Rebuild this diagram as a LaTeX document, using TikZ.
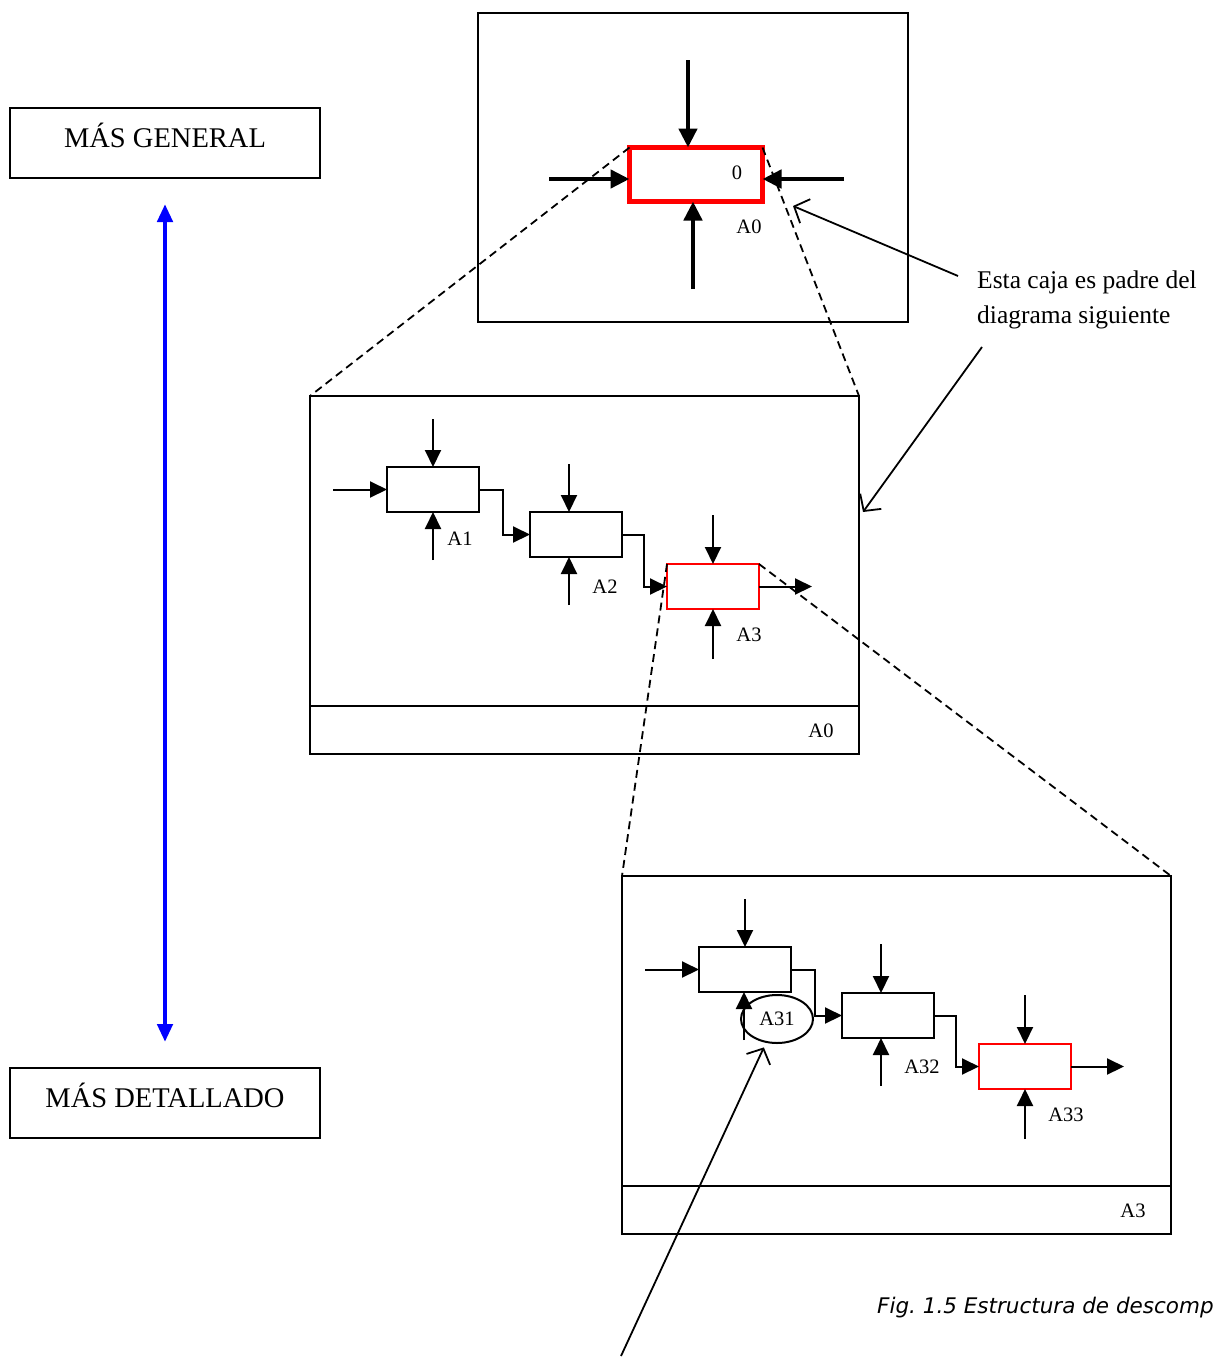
\documentclass[tikz,border=0pt]{standalone}
\usepackage{fontspec}
\setmainfont{Liberation Serif}
\newfontfamily\capfont{DejaVu Sans}
\usetikzlibrary{arrows.meta,shapes.geometric,calc}
\begin{document}
\begin{tikzpicture}[x=1pt,y=-1pt,
  frame/.style={draw, line width=2.4pt, inner sep=0pt, outer sep=0pt},
  proc/.style={draw, line width=2.4pt, minimum width=92pt, minimum height=45pt, inner sep=0pt, outer sep=0pt},
  redproc/.style={proc, draw=red, line width=2pt},
  arr/.style={line width=2pt, -{Triangle[length=17pt,width=16pt]}},
  bigarr/.style={line width=4.5pt, -{Triangle[length=19pt,width=18pt]}},
  lbl/.style={font=\fontsize{20.5}{24}\selectfont, inner sep=0pt},
  bigtext/.style={font=\fontsize{28.5}{32}\selectfont, inner sep=0pt},
  notetext/.style={font=\fontsize{25.5}{30}\selectfont, inner sep=0pt, anchor=base west},
  dashline/.style={line width=1.8pt, dash pattern=on 8pt off 5pt},
  notearr/.style={line width=1.8pt, -{Straight Barb[length=12pt,width=26pt]}},
  bluearr/.style={line width=4.5pt, draw=blue, {Triangle[length=18pt,width=15pt]}-{Triangle[length=18pt,width=15pt]}}
]
\useasboundingbox[fill=white] (0,0) rectangle (1215,1357);

% ---------- left side ----------
\node[frame, minimum width=310pt, minimum height=70pt] (gen) at (165,143) {};
\node[bigtext, anchor=base] (gent) at (165,147) {MÁS GENERAL};
\node[frame, minimum width=310pt, minimum height=70pt] (det) at (165,1103) {};
\node[bigtext, anchor=base] (dett) at (165,1107) {MÁS DETALLADO};
\draw[bluearr, shorten <=26pt, shorten >=26pt] (gen) -- (det);

% ---------- frames ----------
\node[frame, minimum width=430pt, minimum height=309pt] (top) at (693,167.5) {};
\node[frame, minimum width=549pt, minimum height=358pt] (mid) at (584.5,575) {};
\draw[line width=2.4pt] ($(mid.south west)+(0,-48)$) coordinate (mdl) -- (mdl -| mid.east);
\node[frame, minimum width=549pt, minimum height=358pt] (bot) at (896.5,1055) {};
\draw[line width=2.4pt] ($(bot.south west)+(0,-48)$) coordinate (bdl) -- (bdl -| bot.east);

% ---------- top diagram ----------
\node[draw=red, line width=5.5pt, minimum width=133pt, minimum height=54pt, inner sep=0pt, outer sep=0pt] (red) at (696,174.5) {};
\draw[dashline] (red.north west) -- (mid.north west);
\draw[dashline] (red.north east) -- (mid.north east);
\node[lbl] (zero) at (737,173) {0};
\node[lbl] (a0top) at (749,227) {A0};
\coordinate (tt) at (688,60);
\draw[bigarr] (tt) -- (tt |- red.north);
\coordinate (tl) at (549,179);
\draw[bigarr] (tl) -- (tl -| red.west);
\coordinate (tr) at (844,179);
\draw[bigarr] (tr) -- (tr -| red.east);
\coordinate (tb) at (693,289);
\draw[bigarr] (tb) -- (tb |- red.south);

% ---------- note ----------
\node[notetext] (note1) at (977,288) {Esta caja es padre del};
\node[notetext] (note2) at (977,323) {diagrama siguiente};
\coordinate (n1s) at (958,276);
\coordinate (n1e) at (793,206);
\draw[notearr] (n1s) -- (n1e);
\coordinate (n2s) at (982,347);
\coordinate (n2e) at (863,512);
\draw[notearr] (n2s) -- (n2e);

% ---------- middle diagram ----------
\node[proc] (a1) at (433,489.5) {};
\node[proc] (a2) at (576,534.5) {};
\node[redproc] (a3) at (713,586.5) {};
\draw[dashline] (a3.north west) -- (bot.north west);
\draw[dashline] (a3.north east) -- (bot.north east);
\draw[arr] (a1.north) ++(0,-48) -- (a1.north);
\draw[arr] (a1.south) ++(0,48) -- (a1.south);
\draw[arr] (a1.west) ++(-54,0) -- (a1.west);
\draw[arr] (a1.east) -- ++(24,0) |- (a2.west);
\draw[arr] ([xshift=-7pt]a2.north) ++(0,-48) -- ([xshift=-7pt]a2.north);
\draw[arr] ([xshift=-7pt]a2.south) ++(0,48) -- ([xshift=-7pt]a2.south);
\draw[arr] (a2.east) -- ++(22,0) |- (a3.west);
\draw[arr] (a3.north) ++(0,-49) -- (a3.north);
\draw[arr] (a3.south) ++(0,50) -- (a3.south);
\draw[arr] (a3.east) -- ++(53,0);
\node[lbl] (la1) at (460,539) {A1};
\node[lbl] (la2) at (605,587) {A2};
\node[lbl] (la3) at (749,635) {A3};
\node[lbl] (lmid) at (821,731) {A0};

% ---------- bottom diagram ----------
\node[proc] (b1) at (745,969.5) {};
\node[proc] (b2) at (888,1015.5) {};
\node[redproc] (b3) at (1025,1066.5) {};
\node[ellipse, draw, line width=2pt, minimum width=72pt, minimum height=48pt, inner sep=0pt, font=\fontsize{20.5}{24}\selectfont] (a31) at (777,1019) {A31};
\draw[arr] (b1.north) ++(0,-48) -- (b1.north);
\draw[arr] ([xshift=-1pt]b1.south) ++(0,48) -- ([xshift=-1pt]b1.south);
\draw[arr] (b1.west) ++(-54,0) -- (b1.west);
\draw[arr] (b1.east) -- ++(24,0) |- (b2.west);
\draw[arr] ([xshift=-7pt]b2.north) ++(0,-49) -- ([xshift=-7pt]b2.north);
\draw[arr] ([xshift=-7pt]b2.south) ++(0,48) -- ([xshift=-7pt]b2.south);
\draw[arr] (b2.east) -- ++(22,0) |- (b3.west);
\draw[arr] (b3.north) ++(0,-49) -- (b3.north);
\draw[arr] (b3.south) ++(0,50) -- (b3.south);
\draw[arr] (b3.east) -- ++(53,0);
\node[lbl] (lb2) at (922,1067) {A32};
\node[lbl] (lb3) at (1066,1115) {A33};
\node[lbl] (lbot) at (1133,1211) {A3};

\coordinate (n3s) at (621,1356);
\draw[notearr, shorten >=5pt] (n3s) -- (a31);

% ---------- caption ----------
\node[inner sep=0pt, anchor=base west, font=\capfont\itshape\fontsize{21.5}{26}\selectfont] (cap) at (877,1313) {Fig.\ 1.5 Estructura de descomp};
\end{tikzpicture}
\end{document}
